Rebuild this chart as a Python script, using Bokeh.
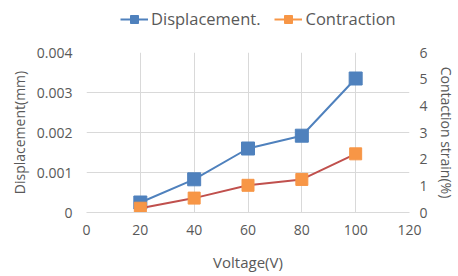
from bokeh.plotting import figure
from bokeh.layouts import column
from bokeh.models import (Range1d, LinearAxis, FixedTicker, NumeralTickFormatter,
                          Legend, LegendItem)
from bokeh.embed import file_html
from bokeh.resources import INLINE

voltage = [20, 40, 60, 80, 100]
displacement = [0.00025, 0.00083, 0.0016, 0.00192, 0.00335]
contraction = [0.16, 0.54, 1.02, 1.24, 2.2]

x_ticks = [0, 20, 40, 60, 80, 100, 120]
y_ticks = [0, 0.001, 0.002, 0.003, 0.004]
y2_ticks = [0, 1, 2, 3, 4, 5, 6]

FONT = "Open Sans"
TXT = "#595959"
GRID = "#D9D9D9"
BLUE = "#4F81BD"
ORANGE = "#F79646"
RED = "#C0504D"

# ---------- main chart ----------
p = figure(width=458, height=240, output_backend="svg", toolbar_location=None,
           x_range=Range1d(0, 120), y_range=Range1d(0, 0.004),
           min_border_left=86, min_border_right=47, min_border_top=16,
           min_border_bottom=64)
p.outline_line_color = None
p.extra_y_ranges = {"r": Range1d(0, 6)}

p.xaxis.ticker = FixedTicker(ticks=x_ticks)
p.yaxis.ticker = FixedTicker(ticks=y_ticks)
p.yaxis.formatter = NumeralTickFormatter(format="0.[000]")
p.xaxis.axis_label = "Voltage(V)"
p.yaxis.axis_label = "Displacement(mm)"

ax2 = LinearAxis(y_range_name="r", ticker=FixedTicker(ticks=y2_ticks),
                 axis_label="Contaction strain(%)")
p.add_layout(ax2, "right")

for ax in [p.xaxis[0], p.yaxis[0], ax2]:
    ax.major_tick_line_color = None
    ax.minor_tick_line_color = None
    ax.major_tick_out = 0
    ax.major_tick_in = 0
    ax.minor_tick_out = 0
    ax.minor_tick_in = 0
    ax.axis_line_color = None
    ax.major_label_text_font = FONT
    ax.major_label_text_font_size = "14px"
    ax.major_label_text_color = TXT
    ax.axis_label_text_font = FONT
    ax.axis_label_text_font_size = "14px"
    ax.axis_label_text_color = TXT
    ax.axis_label_text_font_style = "normal"
p.xaxis.axis_line_color = GRID
p.xaxis.major_label_standoff = 12
p.xaxis.axis_label_standoff = 14
p.xaxis.axis_label_text_font_size = "15px"
p.yaxis.major_label_standoff = 14
p.yaxis.axis_label_standoff = 5
ax2.major_label_standoff = 10
ax2.axis_label_standoff = 6

p.grid.grid_line_color = GRID
p.xgrid.ticker = FixedTicker(ticks=x_ticks)
p.ygrid.ticker = FixedTicker(ticks=y_ticks)

l1 = p.line(voltage, displacement, line_color=BLUE, line_width=2)
s1 = p.scatter(voltage, displacement, marker="square", size=13,
               fill_color=BLUE, line_color=BLUE)
l2 = p.line(voltage, contraction, line_color=RED, line_width=2, y_range_name="r")
s2 = p.scatter(voltage, contraction, marker="square", size=12,
               fill_color=ORANGE, line_color=ORANGE, y_range_name="r")

# ---------- legend strip (same series, out of its view) ----------
lg = figure(width=458, height=36, output_backend="svg", toolbar_location=None,
            x_range=Range1d(1000, 1001), y_range=Range1d(1000, 1001),
            min_border=0)
lg.outline_line_color = None
lg.axis.visible = False
lg.grid.visible = False
g1 = lg.line(voltage, displacement, line_color=BLUE, line_width=2)
h1 = lg.scatter(voltage, displacement, marker="square", size=9,
                fill_color=BLUE, line_color=BLUE)
g2 = lg.line(voltage, contraction, line_color=ORANGE, line_width=2)
h2 = lg.scatter(voltage, contraction, marker="square", size=9,
                fill_color=ORANGE, line_color=ORANGE)

legend = Legend(items=[LegendItem(label="Displacement.", renderers=[g1, h1]),
                       LegendItem(label="Contraction", renderers=[g2, h2])],
                orientation="horizontal", location=(34, 6),
                background_fill_alpha=0, border_line_color=None,
                label_text_font=FONT, label_text_font_size="16.5px",
                label_text_color=TXT, glyph_width=28, glyph_height=20,
                label_standoff=3, spacing=14, padding=0, margin=0)
lg.add_layout(legend, "center")

layout = column(lg, p, spacing=0)
open("out.html", "w").write(file_html(layout, INLINE))
